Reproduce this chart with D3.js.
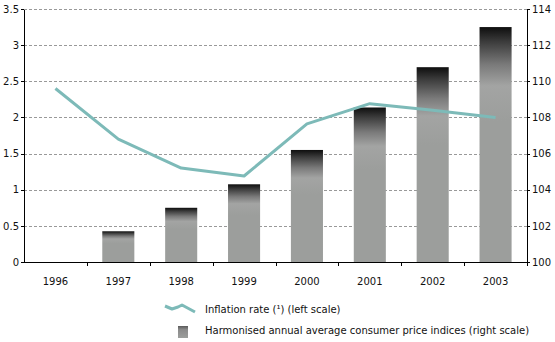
<!DOCTYPE html>
<meta charset="utf-8">
<style>
body { margin: 0; background: #fff; }
svg { display: block; font-family: "DejaVu Sans", Verdana, sans-serif; font-size: 10px; }
.grid line { stroke: #999; stroke-dasharray: 3,2; }
.axis path, .axis line { stroke: #000; shape-rendering: crispEdges; }
.axis text { fill: #111; font-size: 10px; font-family: "DejaVu Sans", Verdana, sans-serif; }
.infl { fill: none; stroke: #7dbab8; stroke-width: 3px; stroke-linejoin: round; }
</style>
<body>
<div id="chart"></div>
<script src="https://d3js.org/d3.v7.min.js"></script>
<script>
// years on the x axis
var years = ["1996", "1997", "1998", "1999", "2000", "2001", "2002", "2003"];
// inflation rate, left scale (%)
var inflation = [2.4, 1.7, 1.3, 1.19, 1.91, 2.19, 2.1, 2.0];
// harmonised annual average consumer price indices, right scale (1996 = 100)
var hicp = [100, 101.7, 103.0, 104.3, 106.2, 108.55, 110.78, 113.0];
var leftTicks = [0, 0.5, 1, 1.5, 2, 2.5, 3, 3.5];
var rightTicks = [100, 102, 104, 106, 108, 110, 112, 114];
var legendLabels = ["Inflation rate (\u00b9) (left scale)",
                    "Harmonised annual average consumer price indices (right scale)"];

var W = 555, H = 342;
var plot = {left: 24, right: 527, top: 9, bottom: 262};

var svg = d3.select("#chart").append("svg")
    .attr("width", W).attr("height", H);

var defs = svg.append("defs");
function addGradient(id, stops) {
  var g = defs.append("linearGradient")
      .attr("id", id).attr("x1", 0).attr("y1", 0).attr("x2", 0).attr("y2", 1);
  stops.forEach(function(s) { g.append("stop").attr("offset", s[0]).attr("stop-color", s[1]); });
}
// bar fill: dark cap fading into flat grey
addGradient("barFill", [[0, "#0e0e0e"], [0.06, "#3a3a3a"], [0.16, "#7a7a7a"], [0.25, "#a3a4a3"], [0.4, "#9c9e9c"], [1, "#9c9e9c"]]);
// legend swatch, softer
addGradient("keyFill", [[0, "#5a5a5a"], [0.3, "#8a8a8a"], [1, "#9c9e9c"]]);

var x = d3.scaleBand().domain(years).range([plot.left, plot.right])
    .paddingInner(0.49).paddingOuter(0.245);
var yL = d3.scaleLinear().domain([0, 3.5]).range([plot.bottom, plot.top]);
var yR = d3.scaleLinear().domain([100, 114]).range([plot.bottom, plot.top]);

// dashed grid at every left-scale tick
svg.append("g").attr("class", "grid")
  .selectAll("line").data(leftTicks.slice(1)).enter().append("line")
    .attr("x1", plot.left).attr("x2", plot.right)
    .attr("y1", function(d) { return Math.round(yL(d)) + 0.5; })
    .attr("y2", function(d) { return Math.round(yL(d)) + 0.5; });

// index bars
svg.append("g").selectAll("rect")
    .data(years.map(function(y, i) { return {year: y, v: hicp[i]}; }).filter(function(d) { return d.v > 100; }))
  .enter().append("rect")
    .attr("x", function(d) { return x(d.year); })
    .attr("width", x.bandwidth())
    .attr("y", function(d) { return yR(d.v); })
    .attr("height", function(d) { return yR(100) - yR(d.v); })
    .attr("fill", "url(#barFill)");

// inflation line
var line = d3.line()
    .x(function(d, i) { return x(years[i]) + x.bandwidth() / 2; })
    .y(function(d) { return yL(d); });
svg.append("path").attr("class", "infl").attr("d", line(inflation));

// axes
svg.append("g").attr("class", "axis")
    .attr("transform", "translate(" + plot.left + ",0)")
    .call(d3.axisLeft(yL).tickValues(leftTicks).tickSize(3).tickSizeOuter(0)
      .tickFormat(function(d) { return String(d); }))
    .call(function(g) { g.selectAll("text").attr("x", -5); });

svg.append("g").attr("class", "axis")
    .attr("transform", "translate(" + plot.right + ",0)")
    .call(d3.axisRight(yR).tickValues(rightTicks).tickSize(3).tickSizeOuter(0))
    .call(function(g) { g.selectAll("text").attr("x", 5); });

// x axis: tick marks sit between categories, labels at category centres
var xg = svg.append("g").attr("class", "axis")
    .attr("transform", "translate(0," + plot.bottom + ")");
xg.append("line").attr("x1", plot.left).attr("x2", plot.right).attr("y1", 0.5).attr("y2", 0.5);
xg.selectAll(".sep").data(years).enter().append("line")
    .attr("x1", function(d) { return Math.round(x(d) + x.step() * 0.755) + 0.5; })
    .attr("x2", function(d) { return Math.round(x(d) + x.step() * 0.755) + 0.5; })
    .attr("y1", 0).attr("y2", 4);
xg.selectAll("text").data(years).enter().append("text")
    .attr("x", function(d) { return x(d) + x.bandwidth() / 2; })
    .attr("y", 23)
    .attr("text-anchor", "middle")
    .text(function(d) { return d; });

// legend
var lg = svg.append("g");
lg.append("path").attr("class", "infl")
    .attr("d", "M165,306 L172,309 L178,307 L182,305 L195,312");
lg.append("text").attr("x", 205).attr("y", 313).attr("fill", "#111").text(legendLabels[0]);
lg.append("rect").attr("x", 178).attr("y", 326).attr("width", 10).attr("height", 12)
    .attr("fill", "url(#keyFill)");
lg.append("text").attr("x", 205).attr("y", 334).attr("fill", "#111").text(legendLabels[1]);
</script>
</body>
